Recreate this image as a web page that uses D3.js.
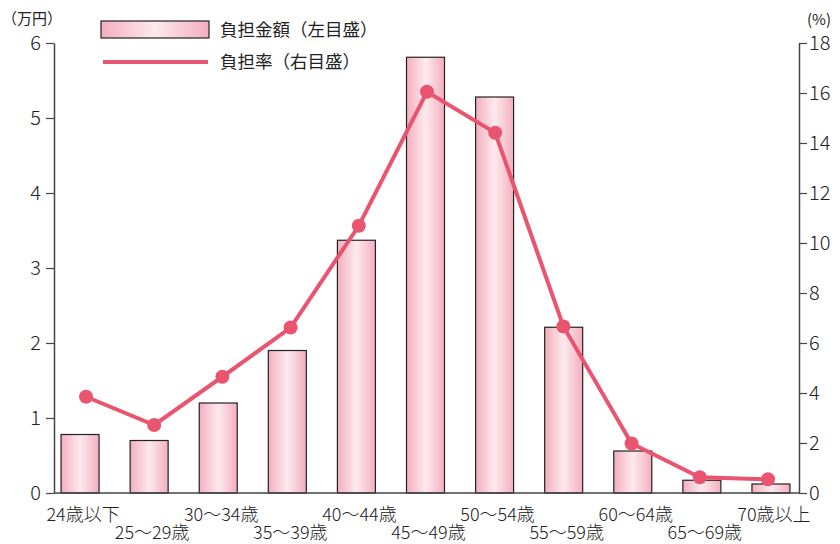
<!DOCTYPE html>
<html>
<head>
<meta charset="utf-8">
<script src="https://cdn.jsdelivr.net/npm/d3@7"></script>
<style>
  body { margin: 0; background: #fff; }
  text { font-family: "Noto Sans CJK JP", "Noto Sans", sans-serif; fill: #222; }
</style>
</head>
<body>
<script>
var width = 840, height = 544;

// data
var ageGroups = ["24歳以下", "25～29歳", "30～34歳", "35～39歳", "40～44歳", "45～49歳",
                 "50～54歳", "55～59歳", "60～64歳", "65～69歳", "70歳以上"];
var amounts = [0.78, 0.70, 1.20, 1.90, 3.37, 5.81, 5.28, 2.21, 0.56, 0.17, 0.12];   // 万円
var rates = [3.85, 2.72, 4.65, 6.62, 10.69, 16.05, 14.41, 6.66, 1.98, 0.63, 0.55];   // %
var leftTicks = [0, 1, 2, 3, 4, 5, 6];
var rightTicks = [0, 2, 4, 6, 8, 10, 12, 14, 16, 18];

var plotLeft = 54, plotRight = 799, plotTop = 43, plotBottom = 493;
var lineColor = "#e9546f";

var svg = d3.select("body")
            .append("svg")
            .attr("width", width)
            .attr("height", height);

// horizontal gradient for the bars
var grad = svg.append("defs")
              .append("linearGradient")
              .attr("id", "barGrad")
              .attr("x1", "0%").attr("x2", "100%")
              .attr("y1", "0%").attr("y2", "0%");
grad.append("stop").attr("offset", "0%").attr("stop-color", "#f3aebe");
grad.append("stop").attr("offset", "50%").attr("stop-color", "#fdeaee");
grad.append("stop").attr("offset", "100%").attr("stop-color", "#f3aebe");

var x = d3.scaleBand()
          .domain(ageGroups)
          .range([45.5, 805.5])
          .paddingInner(0.45)
          .paddingOuter(0.225);

// the rate points sit on their own slightly narrower grid
var xPoint = d3.scalePoint()
               .domain(ageGroups)
               .range([86, 768]);

var yLeft = d3.scaleLinear().domain([0, 6]).range([plotBottom, plotTop]);
var yRight = d3.scaleLinear().domain([0, 18]).range([plotBottom, plotTop]);

// bars
svg.append("g")
   .selectAll("rect")
   .data(amounts)
   .enter()
   .append("rect")
   .attr("x", function(d, i) { return x(ageGroups[i]); })
   .attr("y", function(d) { return yLeft(d); })
   .attr("width", x.bandwidth())
   .attr("height", function(d) { return plotBottom - yLeft(d); })
   .attr("fill", "url(#barGrad)")
   .attr("stroke", "#222")
   .attr("stroke-width", 1.2);

// axes
var axisColor = "#444";
var gLeft = svg.append("g")
   .attr("transform", "translate(" + plotLeft + ",0)")
   .call(d3.axisLeft(yLeft).tickValues(leftTicks).tickFormat(d3.format("d"))
           .tickSize(8).tickPadding(5).tickSizeOuter(0));
var gRight = svg.append("g")
   .attr("transform", "translate(" + plotRight + ",0)")
   .call(d3.axisRight(yRight).tickValues(rightTicks).tickFormat(d3.format("d"))
           .tickSize(8).tickPadding(2).tickSizeOuter(0));
[gLeft, gRight].forEach(function(g) {
  g.select(".domain").attr("stroke", axisColor).attr("stroke-width", 1.5);
  g.selectAll(".tick line").attr("stroke", axisColor).attr("stroke-width", 1.2);
  g.selectAll(".tick text").attr("font-size", 20).attr("fill", "#222")
   .style("font-family", "'Noto Sans CJK JP', sans-serif")
   .style("font-weight", 300);
});

svg.append("line")
   .attr("x1", plotLeft).attr("x2", plotRight)
   .attr("y1", plotBottom).attr("y2", plotBottom)
   .attr("stroke", axisColor)
   .attr("stroke-width", 1.5);

// category labels, alternating rows
svg.append("g")
   .selectAll("text")
   .data(ageGroups)
   .enter()
   .append("text")
   .attr("x", function(d) { return x(d) + x.bandwidth() / 2 + 3; })
   .attr("y", function(d, i) { return i % 2 == 0 ? 521 : 539; })
   .attr("text-anchor", "middle")
   .attr("font-size", 18)
   .attr("font-weight", 300)
   .text(function(d) { return d; });

// rate line
var line = d3.line()
             .x(function(d, i) { return xPoint(ageGroups[i]); })
             .y(function(d) { return yRight(d); });

svg.append("path")
   .datum(rates)
   .attr("d", line)
   .attr("fill", "none")
   .attr("stroke", lineColor)
   .attr("stroke-width", 4);

svg.append("g")
   .selectAll("circle")
   .data(rates)
   .enter()
   .append("circle")
   .attr("cx", function(d, i) { return xPoint(ageGroups[i]); })
   .attr("cy", function(d) { return yRight(d); })
   .attr("r", 7)
   .attr("fill", lineColor);

// unit labels
svg.append("text").attr("x", 2).attr("y", 24).attr("font-size", 15).text("（万円）");
svg.append("text").attr("x", 807).attr("y", 25).attr("font-size", 15).text("(%)");

// legend
var legend = svg.append("g");
legend.append("rect")
      .attr("x", 101).attr("y", 21)
      .attr("width", 108).attr("height", 17)
      .attr("fill", "url(#barGrad)")
      .attr("stroke", "#222")
      .attr("stroke-width", 1.2);
legend.append("text")
      .attr("x", 220).attr("y", 36)
      .attr("font-size", 17.5)
      .text("負担金額（左目盛）");
legend.append("line")
      .attr("x1", 103).attr("x2", 208)
      .attr("y1", 62).attr("y2", 62)
      .attr("stroke", lineColor)
      .attr("stroke-width", 4);
legend.append("text")
      .attr("x", 220).attr("y", 68)
      .attr("font-size", 17.5)
      .text("負担率（右目盛）");
</script>
</body>
</html>
